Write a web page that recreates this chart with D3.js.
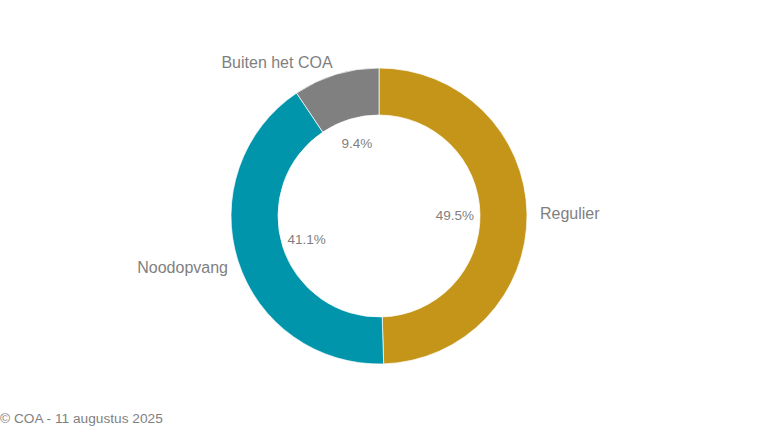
<!DOCTYPE html>
<html><head><meta charset="utf-8">
<script src="https://cdn.jsdelivr.net/npm/d3@7"></script>
<style>html,body{margin:0;padding:0;background:#fff;}svg{display:block;}</style>
</head><body>
<svg id="c" width="760" height="428"></svg>
<script>
const categories = ["Regulier", "Noodopvang", "Buiten het COA"];
const values = [49.5, 41.1, 9.4];
const colors = ["#C49518", "#0095AB", "#808080"];
const valueLabels = ["49.5%", "41.1%", "9.4%"];

const svg = d3.select("#c");
const cx = 379, cy = 216, rOuter = 148, rInner = 101, rLabel = 76;
const g = svg.append("g").attr("transform", `translate(${cx},${cy})`);
const pie = d3.pie().sort(null).value(d => d)(values);
const arc = d3.arc().innerRadius(rInner).outerRadius(rOuter);
g.selectAll("path").data(pie).join("path")
  .attr("d", arc).attr("fill", (d,i) => colors[i])
  .attr("stroke", "#fff").attr("stroke-width", 0.7);

const lab = d3.arc().innerRadius(rLabel).outerRadius(rLabel);
g.selectAll("text.v").data(pie).join("text").attr("class","v")
  .attr("transform", d => `translate(${lab.centroid(d)})`)
  .attr("text-anchor","middle").attr("dy","0.35em")
  .attr("font-family","Liberation Sans, Arial, sans-serif").attr("font-size",13.5)
  .attr("fill","#7f7f7f").text((d,i) => valueLabels[i]);

// outer labels
const outerPos = [
  {x: 540, y: 213, anchor: "start"},
  {x: 228, y: 267, anchor: "end"},
  {x: 277, y: 62, anchor: "middle"}
];
svg.selectAll("text.o").data(categories).join("text").attr("class","o")
  .attr("x",(d,i)=>outerPos[i].x).attr("y",(d,i)=>outerPos[i].y)
  .attr("text-anchor",(d,i)=>outerPos[i].anchor).attr("dy","0.35em")
  .attr("font-family","Liberation Sans, Arial, sans-serif").attr("font-size",16)
  .attr("fill","#7f7f7f").text(d=>d);

svg.append("text").attr("x",0).attr("y",418).attr("dy","0.35em")
  .attr("font-family","Liberation Sans, Arial, sans-serif").attr("font-size",13.7)
  .attr("fill","#7f7f7f").text("© COA - 11 augustus 2025");
</script>
</body></html>
